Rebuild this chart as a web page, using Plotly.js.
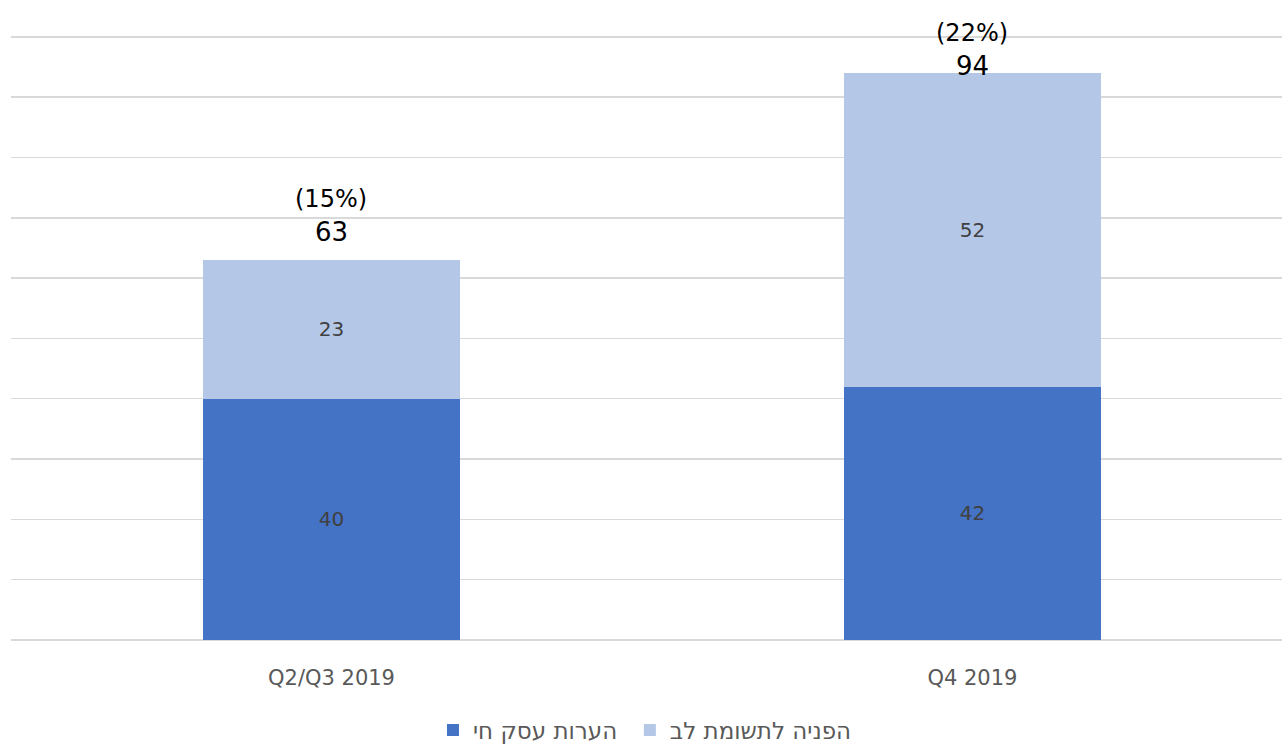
<!DOCTYPE html>
<html>
<head>
<meta charset="utf-8">
<script src="https://cdn.plot.ly/plotly-3.0.1.min.js"></script>
<style>html,body{margin:0;padding:0;background:#fff;}#chart{width:1282px;height:747px;}</style>
</head>
<body>
<div id="chart"></div>
<script>
const categories = ["Q2/Q3 2019", "Q4 2019"];
const seriesNames = ["הערות עסק חי", "הפניה לתשומת לב"];
const businessNotes = [40, 42];
const attentionReferrals = [23, 52];
const percentLabels = ["(15%)", "(22%)"];

const totals = categories.map((c, i) => businessNotes[i] + attentionReferrals[i]);
const font = "DejaVu Sans, Liberation Sans, sans-serif";

const traces = [
  {
    type: "bar", name: seriesNames[0], x: categories, y: businessNotes,
    marker: {color: "#4472C4"}, legend: "legend",
    text: businessNotes.map(String), textposition: "inside", insidetextanchor: "middle",
    textfont: {color: "#404040", size: 20, family: font}, hoverinfo: "none"
  },
  {
    type: "bar", name: seriesNames[1], x: categories, y: attentionReferrals,
    marker: {color: "#B4C7E7"}, legend: "legend2",
    text: attentionReferrals.map(String), textposition: "inside", insidetextanchor: "middle",
    textfont: {color: "#404040", size: 20, family: font}, hoverinfo: "none"
  }
];

const totalShift = [11, -10];
const annotations = [];
categories.forEach((c, i) => {
  annotations.push({
    x: c, y: totals[i], xref: "x", yref: "y", text: String(totals[i]),
    showarrow: false, yanchor: "bottom", yshift: totalShift[i],
    font: {family: font, size: 26, color: "#000"}
  });
  annotations.push({
    x: c, y: totals[i], xref: "x", yref: "y", text: percentLabels[i],
    showarrow: false, yanchor: "bottom", yshift: totalShift[i] + 34,
    font: {family: font, size: 24, color: "#000"}
  });
});

const legendFont = {size: 23, color: "#595959", family: font};
const layout = {
  width: 1282, height: 747,
  margin: {l: 11, r: 0, t: 35, b: 107, autoexpand: false},
  barmode: "stack", bargap: 0.6,
  paper_bgcolor: "#fff", plot_bgcolor: "#fff",
  font: {family: font, color: "#595959"},
  xaxis: {
    range: [-0.5, 1.483], showgrid: false, zeroline: false, showline: false,
    ticks: "", ticklabelstandoff: 23, automargin: false,
    tickfont: {size: 21, color: "#595959", family: font}, fixedrange: true
  },
  yaxis: {
    range: [0, 100.3], tickvals: [0,10,20,30,40,50,60,70,80,90,100], showticklabels: false, showgrid: true,
    gridcolor: "#d9d9d9", gridwidth: 1.5, zeroline: true, zerolinecolor: "#d9d9d9", zerolinewidth: 1.5,
    automargin: false, fixedrange: true
  },
  showlegend: true,
  legend: {
    orientation: "h", x: 0.332, xanchor: "left", y: -0.149, yanchor: "middle",
    itemwidth: 30, font: legendFont
  },
  legend2: {
    orientation: "h", x: 0.4869, xanchor: "left", y: -0.149, yanchor: "middle",
    itemwidth: 30, font: legendFont
  },
  annotations: annotations
};

Plotly.newPlot("chart", traces, layout, {displayModeBar: false, staticPlot: true});
</script>
</body>
</html>
